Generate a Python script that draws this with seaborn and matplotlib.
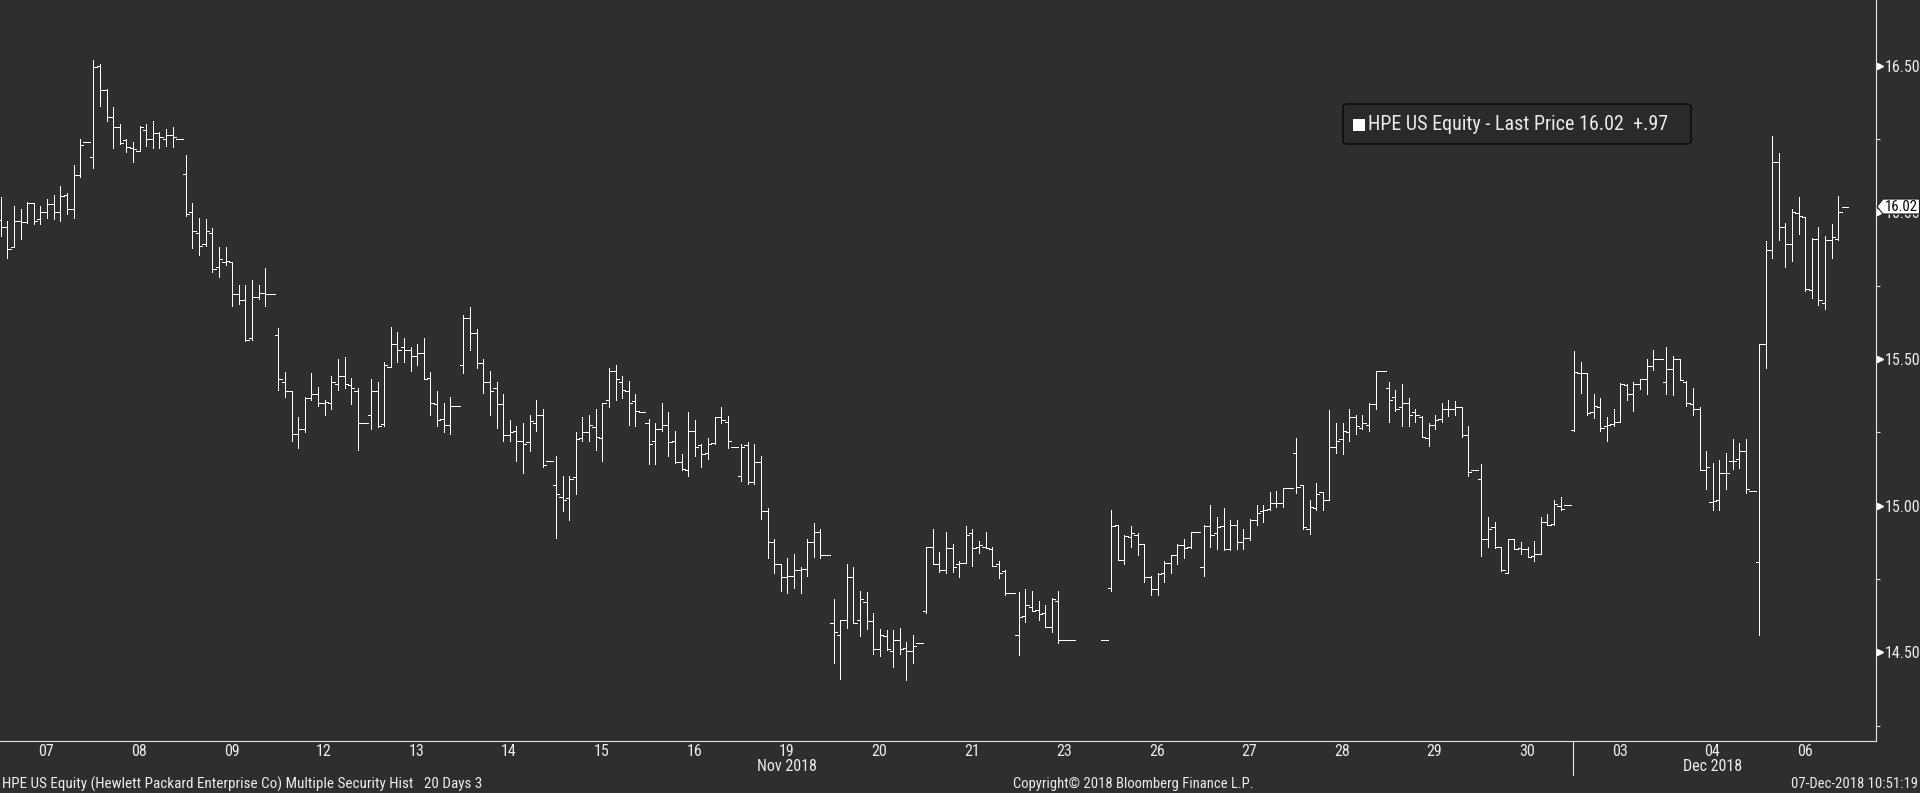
import numpy as np
import pandas as pd
import matplotlib
matplotlib.use("Agg")
import matplotlib.pyplot as plt
import seaborn as sns
from matplotlib import font_manager as fm
from matplotlib.patches import FancyBboxPatch, Rectangle, Polygon
from matplotlib.transforms import IdentityTransform, blended_transform_factory

# ---------------------------------------------------------------- data
# 30-minute OHLC bars (open, high, low, close), 14 slots per trading day
DAY_LABELS = ["07", "08", "09", "12", "13", "14", "15", "16", "19", "20",
              "21", "23", "26", "27", "28", "29", "30", "03", "04", "06"]
MONTH_LABELS = [("Nov 2018", "19"), ("Dec 2018", "04")]
MONTH_BREAK_DAY = "03"

nov07 = [(15.974, 16.054, 15.921, 15.949), (15.949, 15.971, 15.844, 15.874),
         (15.881, 16.022, 15.881, 15.969), (15.969, 16.012, 15.908, 15.966),
         (15.966, 16.035, 15.965, 16.031), (16.031, 16.031, 15.962, 15.969),
         (15.977, 16.022, 15.962, 16.000), (16.000, 16.045, 15.980, 16.030),
         (16.030, 16.060, 15.978, 16.000), (16.000, 16.090, 15.972, 16.055),
         (16.060, 16.065, 15.994, 16.011), (16.011, 16.162, 15.982, 16.127),
         (16.127, 16.250, 16.122, 16.229), (16.240, 16.240, 16.240, 16.240)]
nov08 = [(16.190, 16.520, 16.153, 16.495), (16.500, 16.506, 16.361, 16.416),
         (16.416, 16.420, 16.313, 16.324), (16.324, 16.360, 16.221, 16.290),
         (16.290, 16.300, 16.233, 16.238), (16.247, 16.250, 16.205, 16.224),
         (16.219, 16.240, 16.173, 16.215), (16.208, 16.295, 16.208, 16.290),
         (16.280, 16.300, 16.228, 16.250), (16.250, 16.312, 16.218, 16.269),
         (16.270, 16.274, 16.218, 16.258), (16.250, 16.285, 16.228, 16.265),
         (16.265, 16.290, 16.222, 16.258), (16.250, 16.250, 16.250, 16.250)]
nov09 = [(16.130, 16.196, 15.986, 15.994), (16.000, 16.032, 15.877, 15.936),
         (15.929, 15.981, 15.856, 15.885), (15.891, 15.978, 15.887, 15.936),
         (15.929, 15.947, 15.798, 15.808), (15.815, 15.882, 15.781, 15.840),
         (15.831, 15.882, 15.819, 15.833), (15.830, 15.830, 15.682, 15.721),
         (15.721, 15.753, 15.687, 15.700), (15.700, 15.753, 15.563, 15.565),
         (15.571, 15.770, 15.565, 15.710), (15.710, 15.753, 15.704, 15.724),
         (15.724, 15.810, 15.682, 15.721), (15.721, 15.721, 15.721, 15.721)]
nov12 = [(15.581, 15.606, 15.396, 15.431), (15.422, 15.456, 15.370, 15.390),
         (15.390, 15.391, 15.222, 15.244), (15.245, 15.304, 15.198, 15.260),
         (15.261, 15.372, 15.253, 15.366), (15.366, 15.453, 15.361, 15.380),
         (15.380, 15.405, 15.341, 15.349), (15.349, 15.361, 15.310, 15.353),
         (15.349, 15.442, 15.331, 15.421), (15.414, 15.500, 15.396, 15.441),
         (15.441, 15.507, 15.403, 15.414), (15.410, 15.436, 15.348, 15.400),
         (15.390, 15.401, 15.190, 15.281), (15.281, 15.281, 15.281, 15.281)]
nov13 = [(15.308, 15.432, 15.262, 15.390), (15.390, 15.422, 15.270, 15.271),
         (15.280, 15.491, 15.273, 15.479), (15.474, 15.608, 15.472, 15.550),
         (15.550, 15.592, 15.491, 15.530), (15.540, 15.571, 15.491, 15.531),
         (15.531, 15.540, 15.461, 15.509), (15.509, 15.551, 15.481, 15.520),
         (15.520, 15.572, 15.431, 15.431), (15.436, 15.456, 15.311, 15.349),
         (15.346, 15.391, 15.273, 15.291), (15.295, 15.350, 15.253, 15.274),
         (15.274, 15.371, 15.246, 15.339), (15.339, 15.339, 15.339, 15.339)]
nov14 = [(15.479, 15.649, 15.454, 15.639), (15.639, 15.678, 15.532, 15.590),
         (15.590, 15.601, 15.471, 15.488), (15.488, 15.500, 15.384, 15.421),
         (15.421, 15.459, 15.311, 15.390), (15.400, 15.421, 15.265, 15.348),
         (15.348, 15.380, 15.222, 15.240), (15.240, 15.291, 15.222, 15.250),
         (15.254, 15.271, 15.154, 15.220), (15.220, 15.282, 15.113, 15.210),
         (15.216, 15.310, 15.188, 15.288), (15.281, 15.360, 15.255, 15.308),
         (15.308, 15.329, 15.133, 15.140), (15.151, 15.151, 15.151, 15.151)]
nov15 = [(15.070, 15.170, 14.891, 15.039), (15.029, 15.101, 14.983, 15.019),
         (15.025, 15.101, 14.953, 15.090), (15.099, 15.251, 15.041, 15.226),
         (15.230, 15.303, 15.219, 15.250), (15.250, 15.309, 15.222, 15.274),
         (15.270, 15.329, 15.191, 15.233), (15.230, 15.350, 15.154, 15.349),
         (15.359, 15.470, 15.338, 15.458), (15.458, 15.480, 15.362, 15.431),
         (15.421, 15.442, 15.368, 15.393), (15.390, 15.425, 15.276, 15.349),
         (15.356, 15.381, 15.273, 15.324), (15.318, 15.318, 15.318, 15.318)]
nov16 = [(15.281, 15.296, 15.143, 15.209), (15.220, 15.282, 15.143, 15.260),
         (15.260, 15.351, 15.256, 15.274), (15.274, 15.320, 15.171, 15.216),
         (15.221, 15.255, 15.145, 15.150), (15.150, 15.175, 15.122, 15.124),
         (15.121, 15.320, 15.102, 15.255), (15.255, 15.292, 15.171, 15.199),
         (15.206, 15.209, 15.133, 15.175), (15.179, 15.231, 15.160, 15.209),
         (15.215, 15.302, 15.212, 15.301), (15.301, 15.337, 15.282, 15.291),
         (15.284, 15.306, 15.198, 15.220), (15.199, 15.199, 15.199, 15.199)]
nov19 = [(15.100, 15.210, 15.083, 15.199), (15.206, 15.216, 15.073, 15.082),
         (15.082, 15.209, 15.073, 15.150), (15.150, 15.170, 14.954, 14.981),
         (14.981, 14.992, 14.823, 14.875), (14.875, 14.887, 14.770, 14.800),
         (14.800, 14.800, 14.710, 14.756), (14.756, 14.822, 14.704, 14.759),
         (14.759, 14.835, 14.721, 14.780), (14.780, 14.791, 14.704, 14.783),
         (14.783, 14.885, 14.762, 14.875), (14.875, 14.941, 14.826, 14.909),
         (14.909, 14.920, 14.823, 14.831), (14.831, 14.831, 14.831, 14.831)]
nov20 = [(14.599, 14.682, 14.463, 14.568), (14.558, 14.610, 14.410, 14.609),
         (14.609, 14.801, 14.582, 14.756), (14.756, 14.791, 14.599, 14.599),
         (14.609, 14.709, 14.557, 14.682), (14.671, 14.706, 14.579, 14.606),
         (14.606, 14.633, 14.493, 14.510), (14.510, 14.580, 14.487, 14.558),
         (14.555, 14.576, 14.507, 14.510), (14.504, 14.576, 14.449, 14.541),
         (14.541, 14.583, 14.493, 14.510), (14.514, 14.534, 14.407, 14.504),
         (14.504, 14.559, 14.463, 14.521), (14.531, 14.531, 14.531, 14.531)]
nov21 = [(14.640, 14.858, 14.633, 14.858), (14.858, 14.921, 14.800, 14.800),
         (14.800, 14.842, 14.773, 14.780), (14.780, 14.911, 14.770, 14.855),
         (14.855, 14.870, 14.773, 14.790), (14.800, 14.812, 14.758, 14.805),
         (14.805, 14.931, 14.804, 14.900), (14.907, 14.921, 14.794, 14.855),
         (14.858, 14.880, 14.838, 14.866), (14.860, 14.911, 14.855, 14.855),
         (14.853, 14.860, 14.794, 14.794), (14.800, 14.812, 14.753, 14.770),
         (14.778, 14.780, 14.695, 14.702), (14.702, 14.702, 14.702, 14.702)]
nov23 = [(14.558, 14.705, 14.492, 14.620), (14.623, 14.715, 14.602, 14.661),
         (14.654, 14.708, 14.640, 14.640), (14.644, 14.674, 14.612, 14.630),
         (14.633, 14.661, 14.585, 14.588), (14.588, 14.684, 14.571, 14.681),
         (14.674, 14.708, 14.533, 14.541), (14.541, 14.541, 14.541, 14.541),
         (14.541, 14.541, 14.541, 14.541), None, None, None, None,
         (14.541, 14.541, 14.541, 14.541)]
nov26 = [(14.719, 14.986, 14.711, 14.931), (14.934, 14.934, 14.814, 14.814),
         (14.814, 14.900, 14.803, 14.898), (14.895, 14.931, 14.859, 14.906),
         (14.900, 14.907, 14.832, 14.870), (14.870, 14.870, 14.741, 14.756),
         (14.757, 14.760, 14.694, 14.715), (14.715, 14.771, 14.697, 14.766),
         (14.770, 14.812, 14.741, 14.804), (14.804, 14.832, 14.772, 14.832),
         (14.832, 14.871, 14.803, 14.865), (14.865, 14.887, 14.823, 14.855),
         (14.858, 14.910, 14.855, 14.910), (14.910, 14.910, 14.910, 14.910)]
nov27 = [(14.790, 14.933, 14.762, 14.930), (14.930, 15.002, 14.861, 14.900),
         (14.906, 14.962, 14.854, 14.927), (14.930, 14.993, 14.848, 14.851),
         (14.851, 14.952, 14.848, 14.934), (14.934, 14.952, 14.854, 14.875),
         (14.875, 14.921, 14.854, 14.889), (14.889, 14.954, 14.882, 14.952),
         (14.952, 15.002, 14.936, 14.975), (14.981, 15.003, 14.943, 14.984),
         (14.990, 15.047, 14.985, 15.009), (15.009, 15.051, 14.994, 15.009),
         (15.009, 15.060, 14.997, 15.060), (15.060, 15.060, 15.060, 15.060)]
nov28 = [(15.179, 15.231, 15.043, 15.065), (15.069, 15.070, 14.920, 14.926),
         (14.920, 15.019, 14.902, 14.994), (14.992, 15.078, 14.986, 15.039),
         (15.046, 15.047, 14.987, 15.019), (15.019, 15.326, 15.019, 15.200),
         (15.200, 15.281, 15.180, 15.220), (15.229, 15.281, 15.178, 15.254),
         (15.251, 15.329, 15.222, 15.302), (15.302, 15.309, 15.243, 15.271),
         (15.264, 15.309, 15.263, 15.281), (15.275, 15.350, 15.256, 15.348),
         (15.346, 15.460, 15.331, 15.460), (15.460, 15.460, 15.460, 15.460)]
nov29 = [(15.401, 15.421, 15.284, 15.360), (15.370, 15.395, 15.322, 15.329),
         (15.338, 15.415, 15.273, 15.350), (15.350, 15.368, 15.273, 15.309),
         (15.319, 15.330, 15.287, 15.309), (15.303, 15.305, 15.234, 15.234),
         (15.230, 15.281, 15.202, 15.275), (15.275, 15.309, 15.263, 15.292),
         (15.295, 15.350, 15.284, 15.329), (15.329, 15.361, 15.305, 15.329),
         (15.329, 15.358, 15.311, 15.337), (15.337, 15.338, 15.233, 15.240),
         (15.240, 15.272, 15.103, 15.114), (15.121, 15.121, 15.121, 15.121)]
nov30 = [(15.090, 15.143, 14.827, 14.887), (14.887, 14.962, 14.861, 14.920),
         (14.927, 14.944, 14.857, 14.859), (14.859, 14.859, 14.779, 14.780),
         (14.770, 14.888, 14.769, 14.888), (14.888, 14.888, 14.852, 14.852),
         (14.855, 14.877, 14.834, 14.852), (14.852, 14.861, 14.825, 14.825),
         (14.830, 14.880, 14.813, 14.835), (14.835, 14.960, 14.835, 14.944),
         (14.944, 14.972, 14.934, 14.934), (14.938, 15.020, 14.935, 15.005),
         (15.000, 15.030, 14.986, 14.990), (15.002, 15.002, 15.002, 15.002)]
dec03 = [(15.258, 15.527, 15.255, 15.455), (15.451, 15.489, 15.385, 15.451),
         (15.451, 15.451, 15.309, 15.315), (15.318, 15.380, 15.298, 15.340),
         (15.338, 15.366, 15.255, 15.264), (15.273, 15.301, 15.222, 15.275),
         (15.280, 15.329, 15.272, 15.284), (15.284, 15.420, 15.284, 15.414),
         (15.410, 15.414, 15.359, 15.380), (15.380, 15.423, 15.323, 15.414),
         (15.415, 15.432, 15.397, 15.432), (15.432, 15.500, 15.382, 15.476),
         (15.476, 15.531, 15.463, 15.499), (15.499, 15.499, 15.499, 15.499)]
dec04 = [(15.421, 15.540, 15.382, 15.466), (15.466, 15.510, 15.379, 15.500),
         (15.500, 15.500, 15.430, 15.430), (15.421, 15.425, 15.340, 15.351),
         (15.348, 15.401, 15.309, 15.329), (15.329, 15.335, 15.121, 15.121),
         (15.121, 15.187, 15.058, 15.132), (15.012, 15.147, 14.984, 15.016),
         (15.018, 15.156, 14.987, 15.110), (15.113, 15.179, 15.058, 15.113),
         (15.151, 15.228, 15.125, 15.154), (15.160, 15.213, 15.127, 15.185),
         (15.185, 15.228, 15.042, 15.058), (15.050, 15.050, 15.050, 15.050)]
dec06 = [(14.809, 15.550, 14.559, 15.550), (15.550, 15.901, 15.471, 15.872),
         (15.872, 16.260, 15.843, 16.171), (16.171, 16.201, 15.905, 15.949),
         (15.949, 15.965, 15.813, 15.891), (15.891, 16.010, 15.835, 16.000),
         (15.998, 16.051, 15.927, 15.989), (15.983, 15.983, 15.733, 15.738),
         (15.734, 15.912, 15.707, 15.909), (15.909, 15.949, 15.684, 15.700),
         (15.690, 15.918, 15.672, 15.905), (15.905, 15.959, 15.843, 15.915),
         (15.909, 16.055, 15.906, 16.000), (16.020, 16.020, 16.020, 16.020)]

DAYS = [nov07, nov08, nov09, nov12, nov13, nov14, nov15, nov16, nov19, nov20,
        nov21, nov23, nov26, nov27, nov28, nov29, nov30, dec03, dec04, dec06]
SLOTS_PER_DAY = 14

Y_MAJOR = [14.50, 15.00, 15.50, 16.00, 16.50]
Y_MINOR = [14.25, 14.75, 15.25, 15.75, 16.25]
Y_RANGE = (14.198, 16.724)

TICKER = "HPE US Equity"
SERIES_NAME = "Last Price"
FOOT_LEFT = "HPE US Equity (Hewlett Packard Enterprise Co) Multiple Security Hist   20 Days 3"
FOOT_MID = "Copyright\u00a9 2018 Bloomberg Finance L.P."
FOOT_RIGHT = "07-Dec-2018 10:51:19"

# ---------------------------------------------------------------- style
W, H = 1920, 793
BG = "#2e2e2e"
TXT = "#ececec"
AXC = "#e6e6e6"

sns.set_theme(style="dark", rc={"axes.facecolor": BG, "figure.facecolor": BG})
names = {f.name for f in fm.fontManager.ttflist}
FONT = None
for cand in ["Liberation Sans Narrow", "DejaVu Sans Condensed", "Roboto Condensed"]:
    if cand in names:
        FONT = cand
        break
if FONT is None:
    FONT = "Liberation Sans"
    plt.rcParams["font.stretch"] = "condensed"
plt.rcParams["font.family"] = [FONT, "DejaVu Sans"]

# ---------------------------------------------------------------- path data
rows = []
for d, day in enumerate(DAYS):
    for k, bar in enumerate(day):
        if bar is None:
            continue
        i = d * SLOTS_PER_DAY + k
        o, h, l, c = bar
        for px, py in [(i - 0.5, o), (i, o), (i, h), (i, l), (i, c), (i + 0.5, c)]:
            rows.append({"bar": i, "x": px, "y": py})
df = pd.DataFrame(rows)

fig = plt.figure(figsize=(W / 100, H / 100), dpi=100)
fig.patch.set_facecolor(BG)
ax = fig.add_axes([0, 52 / H, 1876 / W, 741 / H])
ax.set_facecolor(BG)

sns.lineplot(data=df, x="x", y="y", units="bar", estimator=None, sort=False,
             color="white", linewidth=0.5, legend=False, ax=ax,
             antialiased=False, solid_joinstyle="miter", solid_capstyle="butt")

ax.set_xlim(-0.12, 283.7)
ax.set_ylim(*Y_RANGE)
ax.set_xlabel("")
ax.set_ylabel("")
ax.grid(False)

for s in ["top", "left"]:
    ax.spines[s].set_visible(False)
for s in ["right", "bottom"]:
    ax.spines[s].set_visible(True)
    ax.spines[s].set_color(AXC)
    ax.spines[s].set_linewidth(0.8)

# x axis: day labels at the centre of each day block
day_centres = [d * SLOTS_PER_DAY + 6.9 for d in range(len(DAYS))]
ax.set_xticks(day_centres)
ax.set_xticklabels(DAY_LABELS)
ax.tick_params(axis="x", length=0, pad=2.5, labelsize=11.5, labelcolor=TXT)

# y axis on the right
ax.yaxis.tick_right()
ax.set_yticks(Y_MAJOR)
ax.set_yticklabels([f"{v:.2f}" for v in Y_MAJOR])
ax.set_yticks(Y_MINOR, minor=True)
ax.tick_params(axis="y", which="major", length=0, pad=6.5, labelsize=11.5, labelcolor=TXT)
ax.tick_params(axis="y", which="minor", length=3, width=0.8, color=AXC, direction="out")

trans_ax_data = blended_transform_factory(ax.transAxes, ax.transData)
ax.plot([1.0 + 3.5 / 1876] * len(Y_MAJOR), Y_MAJOR, ls="none", marker=">",
        ms=4.5, color="white", mec="white", transform=trans_ax_data, clip_on=False)

# month labels & month break line
trans_data_ax = blended_transform_factory(ax.transData, ax.transAxes)
for lab, dlab in MONTH_LABELS:
    d = DAY_LABELS.index(dlab)
    ax.text(day_centres[d], -(766.5 - 741) / 741, lab, transform=trans_data_ax,
            ha="center", va="center", fontsize=11.5, color=TXT)
brk = DAY_LABELS.index(MONTH_BREAK_DAY) * SLOTS_PER_DAY - 0.1
ax.plot([brk, brk], [0, -(775 - 741) / 741], transform=trans_data_ax,
        color=AXC, lw=0.8, clip_on=False)

# footer
fy = 1 - 784 / H
fig.text(2 / W, fy, FOOT_LEFT, ha="left", va="center", fontsize=10.9, color=TXT)
fig.text(1133 / W, fy, FOOT_MID, ha="center", va="center", fontsize=10.5, color=TXT)
fig.text(1918 / W, fy, FOOT_RIGHT, ha="right", va="center", fontsize=10.5, color=TXT)

# legend box
last = DAYS[-1][-1][3]
prev = DAYS[-2][-1][3]
chg = last - prev
chg_s = f"{chg:+.2f}".replace("+0.", "+.").replace("-0.", "-.")
I = IdentityTransform()
box = FancyBboxPatch((1343, H - 144), 348, 40, boxstyle="round,pad=0,rounding_size=4",
                     fc="#2a2a2a", ec="#0c0c0c", lw=1.2, transform=I)
fig.add_artist(box)
fig.add_artist(Rectangle((1353, H - 131), 11.5, 12, fc="white", ec="none", transform=I))
fig.text(1368, H - 125, f"{TICKER} - {SERIES_NAME} {last:.2f}  {chg_s}", transform=I,
         ha="left", va="center", fontsize=14.4, color=TXT)

# last-price tag on the right axis (covers the 16.00 label, as in the original)
fig.canvas.draw()
yd = ax.transData.transform((0, last))[1]
tag = Polygon([(1877, yd), (1883, yd + 7.5), (1919.5, yd + 7.5),
               (1919.5, yd - 7.5), (1883, yd - 7.5)], closed=True,
              fc="white", ec="#1a1a1a", lw=0.8, transform=I, zorder=10)
fig.add_artist(tag)
fig.text(1901.5, yd, f"{last:.2f}", transform=I, ha="center", va="center",
         fontsize=10.5, color="black", zorder=11)

fig.savefig("out.png", dpi=100, facecolor=BG)
